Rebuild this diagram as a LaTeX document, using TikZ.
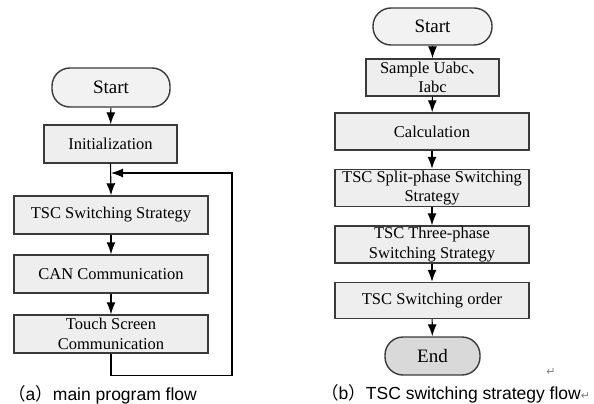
\documentclass[tikz,border=0pt]{standalone}
\usepackage{fontspec}
\setmainfont{Liberation Serif}
\newfontfamily\capfont{Liberation Sans}
\newfontfamily\cjk{Noto Sans CJK SC}
\newfontfamily\symfont{DejaVu Sans}
\usetikzlibrary{arrows.meta}

\definecolor{boxfill}{HTML}{EEEEEE}
\definecolor{startfill}{HTML}{F2F2F2}
\definecolor{endfill}{HTML}{D9D9D9}
\definecolor{edge}{HTML}{3A3A3A}

\tikzset{
  procbox/.style={draw=edge, line width=1.4pt, fill=boxfill, inner sep=0pt,
    align=center, font=\fontsize{16.5}{19.5}\selectfont},
  termbox/.style={procbox, rounded corners=18pt, font=\fontsize{19}{22}\selectfont},
  flowarrow/.style={-{Latex[length=12pt,width=9pt]}, line width=1.1pt, draw=black},
  caption/.style={inner sep=0pt, font=\capfont\fontsize{17.5}{20}\selectfont},
}

\begin{document}
\begin{tikzpicture}[x=1pt,y=1pt,yscale=-1,xscale=1]
        \useasboundingbox (0,0) rectangle (594,404);

        % (a) main program flow
        \node [termbox, fill=startfill, minimum width=118pt, minimum height=39pt] (startA) at (111,87.5) {Start};
        \node [procbox, minimum width=133pt, minimum height=38pt] (init) at (110.5,144) {Initialization};
        \node [procbox, minimum width=194pt, minimum height=38pt] (strategy) at (111,215) {TSC Switching Strategy};
        \node [procbox, minimum width=194pt, minimum height=38pt] (can) at (111,274) {CAN Communication};
        \node [procbox, minimum width=194pt, minimum height=38pt] (touch) at (111,334) {Touch Screen\\Communication};
        \coordinate (loopjoin) at (111,173);

        \draw [flowarrow] (startA) -- (init);
        \draw [flowarrow] (init.south) -- (strategy.north);
        \draw [flowarrow] (strategy) -- (can);
        \draw [flowarrow] (can) -- (touch);
        \draw [flowarrow] (touch.south) -- ++(0,22) -| (232,173) -- (loopjoin);

        % (b) TSC switching strategy flow
        \node [termbox, fill=startfill, minimum width=119pt, minimum height=37pt] (startB) at (432.5,26.5) {Start};
        \node [procbox, minimum width=133pt, minimum height=37pt] (sample) at (432.5,77.5) {Sample Uabc{\cjk 、}\\Iabc};
        \node [procbox, minimum width=194pt, minimum height=37pt] (calc) at (432,131.5) {Calculation};
        \node [procbox, minimum width=194pt, minimum height=37pt] (split) at (432,188) {TSC Split-phase Switching\\Strategy};
        \node [procbox, minimum width=194pt, minimum height=37pt] (three) at (432,244.5) {TSC Three-phase\\Switching Strategy};
        \node [procbox, minimum width=194pt, minimum height=36pt] (order) at (432,300.5) {TSC Switching order};
        \node [termbox, fill=endfill, minimum width=95pt, minimum height=38pt] (endB) at (432.5,356) {End};

        \draw [flowarrow] (startB) -- (sample);
        \draw [flowarrow] (sample) -- (calc);
        \draw [flowarrow] (calc) -- (split);
        \draw [flowarrow] (split) -- (three);
        \draw [flowarrow] (three) -- (order);
        \draw [flowarrow] (order) -- (endB);

        % captions
        \node [caption, anchor=west] (capA) at (8,395) {{\cjk （}a{\cjk ）}main program flow};
        \node [caption, anchor=west] (capB) at (321,394) {{\cjk （}b{\cjk ）}TSC switching strategy flow{\symfont\color{gray}\fontsize{11}{11}\selectfont ↵}};
        \node [inner sep=0pt, text=gray, font=\symfont\fontsize{11}{11}\selectfont] (ret) at (551,372) {↵};

\end{tikzpicture}
\end{document}
